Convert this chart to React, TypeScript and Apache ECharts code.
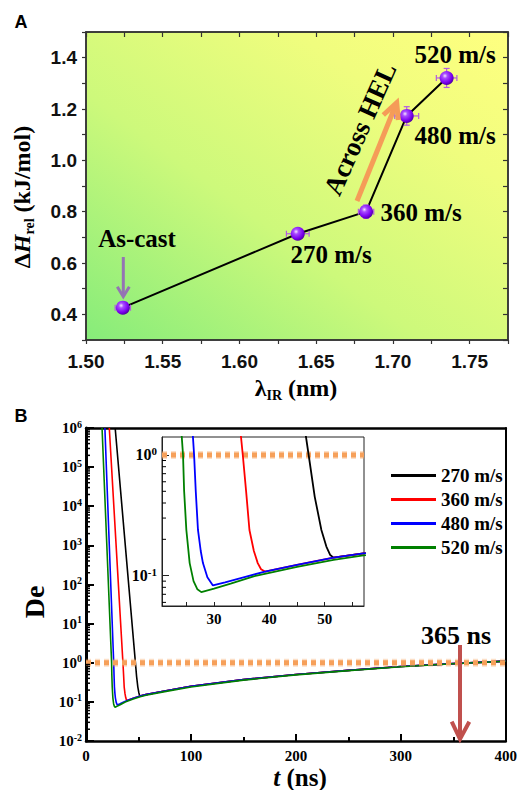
import React, { useEffect, useRef } from 'react';
import * as echarts from 'echarts';

// ---------- Panel A data ----------
const pointLabels = ['As-cast', '270 m/s', '360 m/s', '480 m/s', '520 m/s'];
const lambdaIR = [1.524, 1.638, 1.6825, 1.709, 1.735];
const deltaH = [0.426, 0.714, 0.8, 1.173, 1.321];
const lambdaErr = [0.005, 0.0074, 0.005, 0.0078, 0.0067];
const deltaHErr = [0.01, 0.01, 0.026, 0.036, 0.037];

// ---------- Panel B data ----------
const seriesNames = ['270 m/s', '360 m/s', '480 m/s', '520 m/s'];
const seriesColors = ['#000000', '#ff0000', '#0000ff', '#008000'];

const drop270: number[][] = [[27.8, 1e6], [47.1, 1], [48.2, 0.45], [49.4, 0.239], [50.3, 0.174], [51, 0.148], [51.6, 0.141]];
const drop360: number[][] = [[22.2, 1e6], [35.2, 1], [35.8, 0.5], [36.4, 0.239], [37.2, 0.16], [37.9, 0.127], [38.5, 0.113], [39.2, 0.108]];
const drop480: number[][] = [[18, 1e6], [26.4, 1], [26.7, 0.5], [27.1, 0.239], [27.6, 0.16], [28, 0.127], [28.8, 0.097], [29.8, 0.083]];
const drop520: number[][] = [[15.3, 1e6], [24.4, 1], [24.6, 0.5], [25, 0.239], [25.6, 0.127], [26.3, 0.09], [27, 0.077], [27.7, 0.073]];
const baseShared: number[][] = [[29.8, 0.083], [32, 0.088], [35, 0.096], [39.2, 0.108], [45, 0.123], [51.6, 0.141], [57, 0.153], [75, 0.19], [100, 0.25], [150, 0.37], [200, 0.5], [250, 0.64], [300, 0.8], [350, 0.95], [400, 1.1]];
const base520: number[][] = [[27.7, 0.073], [30, 0.078], [33, 0.086], [37.3, 0.099], [45, 0.118], [51.6, 0.135], [57, 0.147], [75, 0.183], [100, 0.24], [150, 0.36], [200, 0.49], [250, 0.63], [300, 0.79], [350, 0.94], [400, 1.09]];

const thresholdDe = 1;
const mainXRange = [0, 400];
const insetXRange = [20.6, 57.1];
const insetXTickValues = [25, 30, 35, 40, 45, 50, 55];
const insetXLabelValues = [30, 40, 50];
const insetYRange = [0.056, 1.41];
const insetMinorTicks = [0.06, 0.07, 0.08, 0.09, 0.2, 0.3, 0.4, 0.5, 0.6, 0.7, 0.8, 0.9];
const logDecades = [-2, -1, 0, 1, 2, 3, 4, 5];
const logMultipliers = [2, 3, 4, 5, 6, 7, 8, 9];

const serif = '"Liberation Serif", "Times New Roman", serif';
const sans = '"Liberation Sans", Arial, sans-serif';

function curves() {
  return [
    drop270.concat(baseShared.filter((p) => p[0] > 51.6)),
    drop360.concat(baseShared.filter((p) => p[0] > 39.2)),
    drop480.concat(baseShared.filter((p) => p[0] > 29.8)),
    drop520.concat(base520.filter((p) => p[0] > 27.7)),
  ];
}

function isMult(v: number, step: number) {
  return Math.abs(Math.round(v / step) * step - v) < 1e-7;
}

function powLabel(v: number) {
  const e = Math.log10(v);
  if (Math.abs(e - Math.round(e)) > 1e-6) return '';
  return '{b|10}{s|' + Math.round(e) + '}';
}

function tickSeries(xAxisIndex: number, yAxisIndex: number, xVal: number, vals: number[], len: number, width: number) {
  return {
    type: 'custom',
    xAxisIndex,
    yAxisIndex,
    clip: false,
    silent: true,
    z: 5,
    data: vals.map((v) => [xVal, v]),
    renderItem: (params: any, api: any) => {
      const p = api.coord([api.value(0), api.value(1)]);
      return {
        type: 'line',
        shape: { x1: p[0], y1: p[1], x2: p[0] + len, y2: p[1] },
        style: { stroke: '#000', lineWidth: width },
      };
    },
  };
}

function thresholdSeries(xAxisIndex: number, yAxisIndex: number, range: number[], z: number) {
  return [
    {
      type: 'line', xAxisIndex, yAxisIndex, z, symbol: 'none', silent: true,
      lineStyle: { color: 'rgba(246,162,94,0.35)', width: 8, type: [5, 4] },
      data: [[range[0], thresholdDe], [range[1], thresholdDe]],
    },
    {
      type: 'line', xAxisIndex, yAxisIndex, z: z + 0.1, symbol: 'none', silent: true,
      lineStyle: { color: '#f6a05a', width: 5, type: [5, 4] },
      data: [[range[0], thresholdDe], [range[1], thresholdDe]],
    },
  ];
}

function buildOption() {
  const cs = curves();
  const mainMinor: number[] = [];
  logDecades.forEach((d) => logMultipliers.forEach((m) => mainMinor.push(m * Math.pow(10, d))));

  const richSup = {
    b: { fontFamily: serif, fontWeight: 'bold', fontSize: 15, lineHeight: 18, color: '#000' },
    s: { fontFamily: serif, fontWeight: 'bold', fontSize: 10, lineHeight: 10, verticalAlign: 'top', color: '#000' },
  };

  const labelText = (x: number, y: number, text: string, size = 25, extra: any = {}) => ({
    type: 'text',
    x,
    y,
    z: 100,
    ...extra,
    style: {
      text,
      fontFamily: serif,
      fontWeight: 'bold',
      fontSize: size,
      fill: '#000',
      align: 'center',
      verticalAlign: 'middle',
    },
  });

  const arrow = (pts: number[][], head: number[][], color: string, w: number) => [
    { type: 'polyline', z: 90, shape: { points: pts }, style: { stroke: color, lineWidth: w, fill: null } },
    { type: 'polyline', z: 90, shape: { points: head }, style: { stroke: color, lineWidth: w, fill: null, lineJoin: 'miter' } },
  ];

  const sphereColor = {
    type: 'radial', x: 0.38, y: 0.35, r: 0.7,
    colorStops: [
      { offset: 0, color: '#f4e4ff' },
      { offset: 0.25, color: '#a84cff' },
      { offset: 0.7, color: '#7a00ee' },
      { offset: 1, color: '#4a0098' },
    ],
  };

  return {
    animation: false,
    backgroundColor: '#ffffff',
    legend: {
      orient: 'vertical',
      left: 386,
      top: 461,
      itemWidth: 45,
      itemHeight: 3,
      itemGap: 5,
      icon: 'rect',
      selectedMode: false,
      data: seriesNames,
      textStyle: { fontFamily: serif, fontWeight: 'bold', fontSize: 19, lineHeight: 19, color: '#000' },
    },
    grid: [
      {
        left: 86, top: 32, width: 422, height: 308, show: true,
        backgroundColor: {
          type: 'linear', x: 0, y: 1, x2: 1, y2: 0,
          colorStops: [
            { offset: 0, color: '#86ec7a' },
            { offset: 0.4, color: '#cdf97b' },
            { offset: 0.75, color: '#f0fd7e' },
            { offset: 1, color: '#ffff80' },
          ],
        },
        borderColor: '#333', borderWidth: 1.5,
      },
      { left: 86, top: 428, width: 422, height: 313, show: false },
      { left: 162, top: 437, width: 202, height: 169, show: true, backgroundColor: '#ffffff', borderColor: '#222', borderWidth: 1 },
    ],
    xAxis: [
      {
        gridIndex: 0, type: 'value', min: 1.5, max: 1.775, interval: 0.025, position: 'bottom',
        axisLine: { show: true, lineStyle: { color: '#333', width: 1.5 } },
        axisTick: { show: true, inside: false, length: 4, lineStyle: { color: '#333', width: 1.2 } },
        axisLabel: {
          margin: 12, fontFamily: sans, fontWeight: 'bold', fontSize: 19, color: '#111',
          formatter: (v: number) => (isMult(v, 0.05) ? v.toFixed(2) : ''),
        },
        splitLine: { show: false },
      },
      {
        gridIndex: 0, type: 'value', min: 1.5, max: 1.775, interval: 0.025, position: 'top',
        axisLine: { show: true, lineStyle: { color: '#333', width: 1.5 } },
        axisTick: { show: true, inside: true, length: 5, lineStyle: { color: '#333', width: 1.2 } },
        axisLabel: { show: false }, splitLine: { show: false },
      },
      {
        gridIndex: 1, type: 'value', min: mainXRange[0], max: mainXRange[1], interval: 100, position: 'bottom',
        axisLine: { show: true, onZero: false, lineStyle: { color: '#000', width: 2.5 } },
        axisTick: { show: true, inside: true, length: 7, lineStyle: { color: '#000', width: 2 } },
        minorTick: { show: true, splitNumber: 2, length: 4, lineStyle: { color: '#000', width: 2 } },
        axisLabel: { margin: 7, fontFamily: serif, fontWeight: 'bold', fontSize: 15, color: '#000' },
        splitLine: { show: false },
      },
      {
        gridIndex: 1, type: 'value', min: mainXRange[0], max: mainXRange[1], position: 'top',
        axisLine: { show: true, onZero: false, lineStyle: { color: '#000', width: 2.5 } },
        axisTick: { show: false }, axisLabel: { show: false }, splitLine: { show: false },
      },
      {
        gridIndex: 2, type: 'value', min: insetXRange[0], max: insetXRange[1], position: 'bottom',
        axisLine: { show: true, onZero: false, lineStyle: { color: '#222', width: 1 } },
        axisTick: { show: true, inside: true, length: 4, customValues: insetXTickValues, lineStyle: { color: '#222', width: 1 } },
        axisLabel: { customValues: insetXLabelValues, margin: 5, fontFamily: serif, fontWeight: 'bold', fontSize: 15, color: '#000' },
        splitLine: { show: false },
      },
    ],
    yAxis: [
      {
        gridIndex: 0, type: 'value', min: 0.3, max: 1.5, interval: 0.1, position: 'left',
        axisLine: { show: true, lineStyle: { color: '#333', width: 1.5 } },
        axisTick: { show: true, inside: false, length: 4, lineStyle: { color: '#333', width: 1.2 } },
        axisLabel: {
          margin: 9, fontFamily: sans, fontWeight: 'bold', fontSize: 19, color: '#111',
          formatter: (v: number) => (isMult(v, 0.2) ? v.toFixed(1) : ''),
        },
        splitLine: { show: false },
      },
      {
        gridIndex: 0, type: 'value', min: 0.3, max: 1.5, interval: 0.1, position: 'right',
        axisLine: { show: true, lineStyle: { color: '#333', width: 1.5 } },
        axisTick: { show: true, inside: true, length: 5, lineStyle: { color: '#333', width: 1.2 } },
        axisLabel: { show: false }, splitLine: { show: false },
      },
      {
        gridIndex: 1, type: 'log', logBase: 10, min: 0.01, max: 1e6, position: 'left',
        axisLine: { show: true, onZero: false, lineStyle: { color: '#000', width: 3 } },
        axisTick: { show: true, inside: true, length: 8, lineStyle: { color: '#000', width: 2 } },
        axisLabel: { margin: 4, formatter: powLabel, rich: richSup },
        splitLine: { show: false },
      },
      {
        gridIndex: 1, type: 'log', logBase: 10, min: 0.01, max: 1e6, position: 'right',
        axisLine: { show: true, onZero: false, lineStyle: { color: '#000', width: 2 } },
        axisTick: { show: false }, axisLabel: { show: false }, splitLine: { show: false },
      },
      {
        gridIndex: 2, type: 'log', logBase: 10, min: insetYRange[0], max: insetYRange[1], position: 'left',
        axisLine: { show: true, onZero: false, lineStyle: { color: '#222', width: 1 } },
        axisTick: { show: true, inside: true, length: 7, lineStyle: { color: '#222', width: 1 } },
        axisLabel: { margin: 5, formatter: powLabel, rich: { b: { ...richSup.b, fontSize: 16 }, s: { ...richSup.s, fontSize: 11 } }, showMinLabel: false, showMaxLabel: false },
        splitLine: { show: false },
      },
    ],
    series: [
      // Panel A
      {
        type: 'line', xAxisIndex: 0, yAxisIndex: 0, z: 2, symbol: 'none',
        lineStyle: { color: '#000', width: 2 },
        data: lambdaIR.map((x, i) => [x, deltaH[i]]),
      },
      {
        type: 'custom', xAxisIndex: 0, yAxisIndex: 0, z: 3, clip: false,
        encode: { x: 0, y: 1 },
        data: lambdaIR.map((x, i) => [x, deltaH[i], lambdaErr[i], deltaHErr[i]]),
        renderItem: (params: any, api: any) => {
          const x = api.value(0), y = api.value(1), ex = api.value(2), ey = api.value(3);
          const l = api.coord([x - ex, y]);
          const r = api.coord([x + ex, y]);
          const t = api.coord([x, y + ey]);
          const b = api.coord([x, y - ey]);
          const cap = 3;
          const style = { stroke: '#b25ce0', lineWidth: 1.2 };
          return {
            type: 'group',
            children: [
              { type: 'line', shape: { x1: l[0], y1: l[1], x2: r[0], y2: r[1] }, style },
              { type: 'line', shape: { x1: l[0], y1: l[1] - cap, x2: l[0], y2: l[1] + cap }, style },
              { type: 'line', shape: { x1: r[0], y1: r[1] - cap, x2: r[0], y2: r[1] + cap }, style },
              { type: 'line', shape: { x1: t[0], y1: t[1], x2: b[0], y2: b[1] }, style },
              { type: 'line', shape: { x1: t[0] - cap, y1: t[1], x2: t[0] + cap, y2: t[1] }, style },
              { type: 'line', shape: { x1: b[0] - cap, y1: b[1], x2: b[0] + cap, y2: b[1] }, style },
            ],
          };
        },
      },
      {
        type: 'scatter', xAxisIndex: 0, yAxisIndex: 0, z: 4, symbol: 'circle', symbolSize: 14,
        itemStyle: { color: sphereColor, opacity: 1 },
        data: lambdaIR.map((x, i) => ({ value: [x, deltaH[i]], name: pointLabels[i] })),
      },
      // Panel B main
      ...cs.map((d, i) => ({
        type: 'line', name: seriesNames[i], xAxisIndex: 2, yAxisIndex: 2, z: 3, symbol: 'none',
        lineStyle: { color: seriesColors[i], width: 1.6 }, itemStyle: { color: seriesColors[i] },
        data: d,
      })),
      ...thresholdSeries(2, 2, mainXRange, 4),
      tickSeries(2, 2, 0, mainMinor, 4, 1.5),
      // Inset
      ...thresholdSeries(4, 4, insetXRange, 5),
      ...cs.map((d, i) => ({
        type: 'line', name: seriesNames[i], xAxisIndex: 4, yAxisIndex: 4, z: 6, symbol: 'none',
        lineStyle: { color: seriesColors[i], width: 1.8 }, itemStyle: { color: seriesColors[i] },
        data: d,
      })),
      tickSeries(4, 4, insetXRange[0], insetMinorTicks, 4, 1),
    ],
    graphic: [
      { type: 'text', x: 21, y: 22, z: 100, style: { text: 'A', fontFamily: sans, fontWeight: 'bold', fontSize: 18, fill: '#000', align: 'center', verticalAlign: 'middle' } },
      { type: 'text', x: 21, y: 416, z: 100, style: { text: 'B', fontFamily: sans, fontWeight: 'bold', fontSize: 18, fill: '#000', align: 'center', verticalAlign: 'middle' } },
      labelText(137, 238, pointLabels[0]),
      labelText(331, 254, pointLabels[1]),
      labelText(421, 212, pointLabels[2]),
      labelText(455, 135, pointLabels[3]),
      labelText(455, 54, pointLabels[4]),
      labelText(360, 129, 'Across HEL', 27, { rotation: (66 * Math.PI) / 180 }),
      labelText(456, 635, '365 ns', 26),
      labelText(34, 602, 'De', 28, { rotation: Math.PI / 2 }),
      {
        type: 'text', x: 22, y: 197, z: 100, rotation: Math.PI / 2,
        style: {
          text: '{n|Δ}{i|H}{sub|rel}{n| (kJ/mol)}',
          align: 'center', verticalAlign: 'middle',
          rich: {
            n: { fontFamily: serif, fontWeight: 'bold', fontSize: 24, lineHeight: 28, fill: '#000' },
            i: { fontFamily: serif, fontWeight: 'bold', fontStyle: 'italic', fontSize: 24, lineHeight: 28, fill: '#000' },
            sub: { fontFamily: serif, fontWeight: 'bold', fontSize: 14, lineHeight: 14, verticalAlign: 'bottom', fill: '#000' },
          },
        },
      },
      {
        type: 'text', x: 296, y: 388, z: 100,
        style: {
          text: '{n|λ}{sub|IR}{n| (nm)}',
          align: 'center', verticalAlign: 'middle',
          rich: {
            n: { fontFamily: serif, fontWeight: 'bold', fontSize: 24, lineHeight: 28, fill: '#000' },
            sub: { fontFamily: serif, fontWeight: 'bold', fontSize: 14, lineHeight: 14, verticalAlign: 'bottom', fill: '#000' },
          },
        },
      },
      {
        type: 'text', x: 300, y: 777, z: 100,
        style: {
          text: '{i|t}{n| (ns)}',
          align: 'center', verticalAlign: 'middle',
          rich: {
            n: { fontFamily: serif, fontWeight: 'bold', fontSize: 25, fill: '#000' },
            i: { fontFamily: serif, fontWeight: 'bold', fontStyle: 'italic', fontSize: 25, fill: '#000' },
          },
        },
      },
      ...arrow([[123.3, 257], [123.3, 294]], [[117.3, 286.7], [123.3, 296.7], [129.3, 286.7]], '#9474b4', 3),
      ...arrow([[357, 201], [395.5, 105.5]], [[383.3, 115], [396.7, 102.7], [398.3, 120]], '#f59c58', 5),
      ...arrow([[460, 645], [460, 737]], [[451.7, 721.7], [460, 739], [469.3, 721.7]], '#c0504d', 4),
    ],
  };
}

export default function App() {
  const ref = useRef<HTMLDivElement>(null);
  useEffect(() => {
    if (!ref.current) return;
    const chart = echarts.init(ref.current, null, { renderer: 'svg' });
    chart.setOption(buildOption() as any);
    return () => chart.dispose();
  }, []);
  return <div ref={ref} style={{ position: 'fixed', left: 0, top: 0, width: 520, height: 790 }} />;
}
